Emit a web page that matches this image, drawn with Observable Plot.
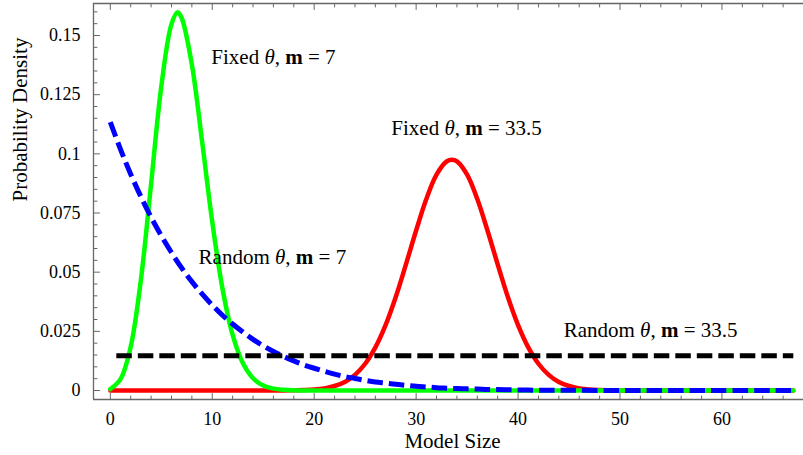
<!DOCTYPE html>
<html>
<head>
<meta charset="utf-8">
<script src="https://cdn.jsdelivr.net/npm/d3@7"></script>
<script src="https://cdn.jsdelivr.net/npm/@observablehq/plot@0.6"></script>
<style>
  html, body { margin: 0; padding: 0; background: #fff; }
</style>
</head>
<body>
<div id="chart"></div>
<script>
// ---- Data ----
// Fixed θ, m = 7 (green)
const fixed7X = [0,1,2,3,4,5,6,6.6,7,8,9,10,11,12,13,14,15,16,17,18,19,20,30,40,50,60,67];
const fixed7Y = [0.0006,0.0048,0.0185,0.0468,0.0873,0.1284,0.1548,0.1598,0.1574,0.1377,0.1053,0.0713,0.0431,0.0235,0.0116,0.0052,0.0021,0.0008,0.0003,0.0001,0,0,0,0,0,0,0];

// Fixed θ, m = 33.5 (red)
const fixed335X = [0,10,16,17,18,19,20,21,22,23,24,25,26,27,28,29,30,31,32,33,33.5,34,35,36,37,38,39,40,41,42,43,44,45,46,47,48,49,50,51,60,67];
const fixed335Y = [0,0,0,0,0.0001,0.0002,0.0004,0.0009,0.0019,0.0036,0.0066,0.0113,0.0182,0.0276,0.0395,0.0533,0.0676,0.0809,0.0912,0.0968,0.0975,0.0968,0.0912,0.0809,0.0676,0.0533,0.0395,0.0276,0.0182,0.0113,0.0066,0.0036,0.0019,0.0009,0.0004,0.0002,0.0001,0,0,0,0];

// Random θ, m = 7 (blue dashed)
const random7X = [0,1,2,3,4,5,6,7,8,9,10,11,12,13,14,15,16,17,18,19,20,21,22,23,24,25,26,27,28,29,30,31,32,33,34,35,36,37,38,39,40,41,42,43,44,45,50,55,60,67];
const random7Y = [0.1134,0.1019,0.0914,0.0819,0.0732,0.0654,0.0583,0.0518,0.0460,0.0408,0.0361,0.0318,0.0281,0.0247,0.0216,0.0189,0.0165,0.0144,0.0125,0.0108,0.0094,0.0081,0.0069,0.0059,0.0051,0.0043,0.0036,0.0031,0.0026,0.0022,0.0018,0.0015,0.0012,0.0010,0.0008,0.0007,0.0006,0.0004,0.0004,0.0003,0.0002,0.0002,0.0001,0.0001,0.0001,0.0001,0,0,0,0];

// Random θ, m = 33.5 (black dashed, flat)
const random335X = [0, 67];
const random335Y = [0.0147, 0.0147];

// Annotations
const labelText = ["Fixed θ, m = 7", "Fixed θ, m = 33.5", "Random θ, m = 7", "Random θ, m = 33.5"];
const labelX = [16.0, 34.95, 15.9, 53.0];
const labelY = [0.1409, 0.1106, 0.0563, 0.0254];

// Axes
const xTickValues = [0, 10, 20, 30, 40, 50, 60];
const yTickValues = [0, 0.025, 0.05, 0.075, 0.1, 0.125, 0.15];
const xTitle = "Model Size";
const yTitle = "Probability Density";

const xDomain = [-1.65, 68.0];
const yDomain = [-0.0038, 0.16352];

// ---- Build ----
const toRows = (xs, ys) => xs.map((x, i) => ({x, y: ys[i]}));
const xMinor = d3.range(0, 68, 2).filter(v => v % 10 !== 0);
const yMinor = d3.range(0, 33).map(i => +(i * 0.005).toFixed(3)).filter(v => Math.round(v * 1000) % 25 !== 0);
const labels = labelText.map((t, i) => ({t, x: labelX[i], y: labelY[i]}));

const tickShape = {draw(context, l) { context.moveTo(0, 0); context.lineTo(0, -l); }};
const frameColor = "#666";

function ticks(data, opts, len) {
  return Plot.vector(data, {anchor: "start", length: len, shape: tickShape, stroke: frameColor, strokeWidth: 1, ...opts});
}

const chart = Plot.plot({
  width: 803,
  height: 455,
  marginLeft: 93,
  marginRight: 0,
  marginTop: 3,
  marginBottom: 56,
  style: {fontFamily: "'Liberation Serif', 'Times New Roman', serif", fontSize: "18px", background: "#fff", color: "#000"},
  x: {domain: xDomain},
  y: {domain: yDomain},
  marks: [
    // curves
    Plot.line(toRows(fixed335X, fixed335Y), {x: "x", y: "y", stroke: "#ff0000", strokeWidth: 4.5, curve: "catmull-rom"}),
    Plot.line(toRows(fixed7X, fixed7Y), {x: "x", y: "y", stroke: "#00ff00", strokeWidth: 4.5, curve: "catmull-rom"}),
    Plot.line(toRows(random7X, random7Y), {x: "x", y: "y", stroke: "#0000ff", strokeWidth: 5, strokeDasharray: "15.5,6", strokeLinecap: "butt", curve: "catmull-rom"}),
    Plot.line(toRows(random335X, random335Y), {x: "x", y: "y", stroke: "#000", strokeWidth: 5, strokeDasharray: "15.5,6", strokeDashoffset: 15.5, strokeLinecap: "butt"}),
    // frame (left, top, bottom)
    Plot.ruleX([xDomain[0]], {stroke: frameColor, strokeWidth: 1.3}),
    Plot.ruleY([yDomain[0]], {stroke: frameColor, strokeWidth: 1.3}),
    Plot.ruleY([yDomain[1]], {stroke: frameColor, strokeWidth: 1.3}),
    // inward ticks
    ticks(xTickValues, {x: d => d, frameAnchor: "bottom", rotate: 0}, 6),
    ticks(xMinor, {x: d => d, frameAnchor: "bottom", rotate: 0}, 3.5),
    ticks(xTickValues, {x: d => d, frameAnchor: "top", rotate: 180}, 6),
    ticks(xMinor, {x: d => d, frameAnchor: "top", rotate: 180}, 3.5),
    ticks(yTickValues, {y: d => d, frameAnchor: "left", rotate: 90}, 6),
    ticks(yMinor, {y: d => d, frameAnchor: "left", rotate: 90}, 3.5),
    // tick labels
    Plot.axisX(xTickValues, {anchor: "bottom", tickSize: 0, tickPadding: 13, label: null, fontSize: 18}),
    Plot.axisY(yTickValues, {anchor: "left", tickSize: 0, tickPadding: 13, label: null, tickFormat: d => String(d), fontSize: 18}),
    // axis titles
    Plot.text([xTitle], {frameAnchor: "bottom", dx: 4, dy: 48.5, lineAnchor: "bottom", fontSize: 21}),
    Plot.text([yTitle], {frameAnchor: "left", dx: -66.5, rotate: -90, lineAnchor: "bottom", fontSize: 21}),
    // annotations
    Plot.text(labels, {x: "x", y: "y", text: "t", fontSize: 21, lineAnchor: "middle", fill: "#000"})
  ]
});

// Italic θ and bold m in annotations
chart.querySelectorAll("text").forEach(t => {
  const s = t.textContent;
  if (!s.includes("θ")) return;
  t.textContent = "";
  const parts = s.split(/(θ|\bm\b)/);
  parts.forEach(p => {
    if (!p) return;
    const ts = document.createElementNS("http://www.w3.org/2000/svg", "tspan");
    ts.textContent = p;
    if (p === "θ") ts.setAttribute("font-style", "italic");
    if (p === "m") ts.setAttribute("font-weight", "bold");
    t.appendChild(ts);
  });
});

document.getElementById("chart").appendChild(chart);
</script>
</body>
</html>
